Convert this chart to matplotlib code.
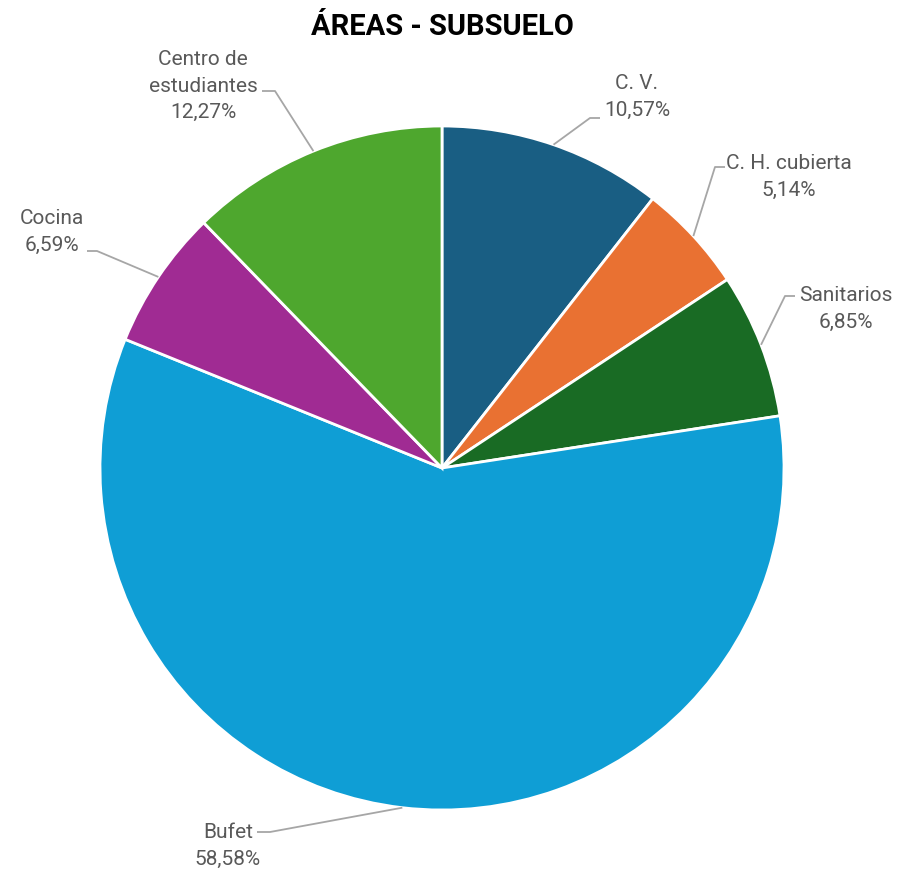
import numpy as np
import matplotlib
matplotlib.use('Agg')
import matplotlib.pyplot as plt

plt.rcParams['font.family'] = ['Roboto', 'DejaVu Sans']

# datos del gráfico
categorias = ['C. V.', 'C. H. cubierta', 'Sanitarios', 'Bufet', 'Cocina', 'Centro de\nestudiantes']
porcentajes = [10.57, 5.14, 6.85, 58.58, 6.59, 12.27]
colores = ['#195e83', '#e97132', '#196b24', '#0f9ed5', '#a02b93', '#4ea72e']
titulo = 'ÁREAS - SUBSUELO'

# posiciones de etiquetas (pixeles): codo de la línea, fin de la línea, centro del texto
codos = [(590, 119), (715, 168), (785, 297), (270, 833), (97, 252), (275, 92)]
finales = [(600, 119), (725, 168), (795, 297), (257, 833), (87, 252), (262, 92)]
textos_pos = [(637, 97), (789, 177), (846, 309), (228, 846), (52, 232), (203, 86)]

W, H = 912, 870
fig = plt.figure(figsize=(W / 100, H / 100), dpi=100)
ax = fig.add_axes([0, 0, 1, 1])

cx, cy, r = 442, H - 469, 342
wedges, _ = ax.pie(porcentajes, colors=colores, startangle=90, counterclock=False,
                   center=(cx, cy), radius=r, frame=True,
                   wedgeprops=dict(edgecolor='white', linewidth=2))
ax.set_xlim(0, W)
ax.set_ylim(0, H)
ax.set_aspect('equal')
ax.axis('off')

for w, cat, p, codo, fin, tp in zip(wedges, categorias, porcentajes, codos, finales, textos_pos):
    # línea guía desde el punto medio del borde de la porción
    ang = np.deg2rad((w.theta1 + w.theta2) / 2)
    x0, y0 = cx + r * np.cos(ang), cy + r * np.sin(ang)
    ax.plot([x0, codo[0], fin[0]], [y0, H - codo[1], H - fin[1]],
            color='#a6a6a6', linewidth=1.3, solid_capstyle='butt')
    pct = f'{p:.2f}'.replace('.', ',')
    ax.text(tp[0], H - tp[1], f'{cat}\n{pct}%', ha='center', va='center', fontsize=15,
            color='#595959', linespacing=1.5, multialignment='center')

fig.text(442 / W, 1 - 27 / H, titulo, ha='center', va='center', fontsize=21,
         fontweight='bold', color='#000000')

fig.savefig('out.png', dpi=100)
